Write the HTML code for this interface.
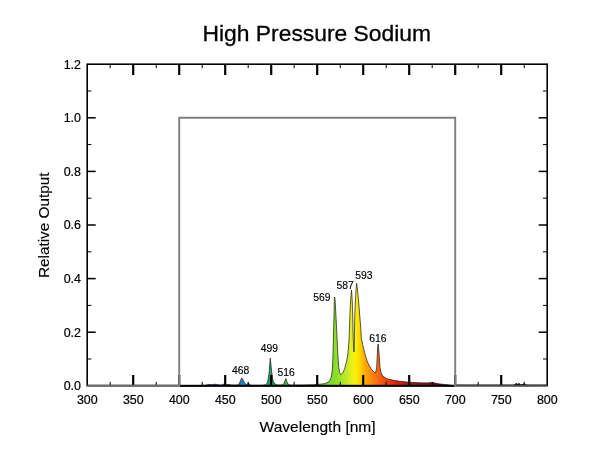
<!DOCTYPE html>
<html><head><meta charset="utf-8"><title>High Pressure Sodium</title>
<style>
html,body{margin:0;padding:0;background:#fff;}
body{width:600px;height:450px;overflow:hidden;font-family:"Liberation Sans",sans-serif;}
svg{display:block;will-change:transform;}
text{font-family:"Liberation Sans",sans-serif;fill:#000;}
.tk{font-size:12.45px;stroke:#000;stroke-width:0.2px;}
.pk{font-size:10.35px;stroke:#000;stroke-width:0.15px;}
.ttl{font-size:22.85px;stroke:#000;stroke-width:0.3px;}
.ax{font-size:15.55px;stroke:#000;stroke-width:0.15px;}
.ay{font-size:15.3px;stroke:#000;stroke-width:0.15px;}
</style></head><body>
<svg width="600" height="450" viewBox="0 0 600 450">
<defs><linearGradient id="sp" gradientUnits="userSpaceOnUse" x1="179" y1="0" x2="455.2" y2="0"><stop offset="0.0000" stop-color="#180028"/><stop offset="0.0978" stop-color="#2a10a0"/><stop offset="0.1484" stop-color="#1030c8"/><stop offset="0.1991" stop-color="#1060d8"/><stop offset="0.2263" stop-color="#1c80d4"/><stop offset="0.2571" stop-color="#18a0c0"/><stop offset="0.3005" stop-color="#10a888"/><stop offset="0.3295" stop-color="#1ca46c"/><stop offset="0.3621" stop-color="#28b450"/><stop offset="0.3874" stop-color="#3cb84c"/><stop offset="0.4381" stop-color="#50d038"/><stop offset="0.5105" stop-color="#68d828"/><stop offset="0.5587" stop-color="#80dc28"/><stop offset="0.5829" stop-color="#a0e428"/><stop offset="0.6072" stop-color="#c4ea24"/><stop offset="0.6264" stop-color="#e8f01c"/><stop offset="0.6408" stop-color="#fff000"/><stop offset="0.6553" stop-color="#ffd400"/><stop offset="0.6698" stop-color="#ffb000"/><stop offset="0.6941" stop-color="#ff8c08"/><stop offset="0.7205" stop-color="#f86810"/><stop offset="0.7520" stop-color="#f04010"/><stop offset="0.7893" stop-color="#e41c10"/><stop offset="0.8327" stop-color="#c40c14"/><stop offset="0.8798" stop-color="#9c0c18"/><stop offset="0.9232" stop-color="#7c0814"/><stop offset="0.9594" stop-color="#500010"/><stop offset="0.9993" stop-color="#200000"/></linearGradient></defs>
<rect x="0" y="0" width="600" height="450" fill="#fff"/>
<path d="M179.20 385.80 L179.20 385.80 L197.60 385.53 L204.96 385.26 L209.56 384.46 L212.32 384.73 L215.08 384.19 L217.84 384.73 L221.52 385.00 L224.28 383.92 L226.12 384.73 L228.88 384.46 L231.64 385.00 L237.16 385.00 L239.00 384.19 L240.38 380.98 L241.76 378.03 L243.42 380.44 L244.98 383.66 L246.82 384.73 L248.38 382.58 L249.86 385.00 L252.80 385.26 L262.00 385.26 L265.68 384.73 L267.52 382.58 L268.99 373.74 L270.28 358.20 L271.75 372.40 L273.04 380.98 L274.88 383.92 L277.64 385.00 L281.32 385.00 L283.62 384.19 L284.91 380.98 L285.83 378.56 L286.75 381.24 L288.04 384.19 L290.06 385.00 L303.40 385.00 L312.60 384.73 L320.24 384.19 L325.30 383.60 L329.30 381.50 L331.30 377.00 L332.30 370.00 L332.90 357.00 L333.30 343.00 L333.60 330.00 L334.00 315.00 L334.25 303.00 L334.45 298.50 L334.67 297.00 L334.90 298.50 L335.25 303.00 L335.90 315.00 L336.70 330.00 L337.30 343.00 L338.00 357.00 L338.70 367.00 L339.60 372.50 L340.70 374.70 L342.70 373.00 L344.70 368.50 L346.30 362.50 L347.40 357.00 L348.30 350.00 L349.00 340.00 L349.40 330.00 L349.90 315.00 L350.50 302.00 L351.50 289.90 L352.30 302.00 L352.70 315.00 L353.00 330.00 L353.60 349.00 L354.00 352.00 L354.30 349.00 L354.40 335.00 L354.80 315.00 L355.30 302.00 L356.00 290.00 L356.67 283.30 L357.50 290.00 L358.70 302.00 L359.70 315.00 L360.80 328.00 L361.30 338.00 L362.70 344.70 L364.70 352.70 L366.70 360.00 L369.30 366.00 L372.00 370.00 L374.70 372.70 L375.60 373.00 L376.70 367.30 L377.20 356.70 L377.70 347.00 L378.10 344.00 L378.50 347.00 L379.30 356.70 L380.00 367.30 L381.00 372.70 L382.70 376.00 L386.70 378.70 L393.30 380.30 L400.00 381.30 L409.30 382.30 L420.00 382.80 L427.00 382.90 L430.00 382.70 L432.00 382.60 L434.00 382.80 L437.00 383.50 L440.00 384.00 L445.00 384.50 L449.30 384.90 L455.20 385.80 Z" fill="url(#sp)" stroke="#1a1a10" stroke-width="0.7" stroke-linejoin="round"/>
<rect x="87.2" y="64.2" width="460.00" height="321.40" fill="none" stroke="#000" stroke-width="1.6"/>
<line x1="110.20" y1="64.20" x2="110.20" y2="68.20" stroke="#000" stroke-width="1"/><line x1="133.20" y1="64.20" x2="133.20" y2="75.00" stroke="#000" stroke-width="2.2"/><line x1="156.20" y1="64.20" x2="156.20" y2="68.20" stroke="#000" stroke-width="1"/><line x1="179.20" y1="64.20" x2="179.20" y2="75.00" stroke="#000" stroke-width="2.2"/><line x1="202.20" y1="64.20" x2="202.20" y2="68.20" stroke="#000" stroke-width="1"/><line x1="225.20" y1="64.20" x2="225.20" y2="75.00" stroke="#000" stroke-width="2.2"/><line x1="248.20" y1="64.20" x2="248.20" y2="68.20" stroke="#000" stroke-width="1"/><line x1="271.20" y1="64.20" x2="271.20" y2="75.00" stroke="#000" stroke-width="2.2"/><line x1="294.20" y1="64.20" x2="294.20" y2="68.20" stroke="#000" stroke-width="1"/><line x1="317.20" y1="64.20" x2="317.20" y2="75.00" stroke="#000" stroke-width="2.2"/><line x1="340.20" y1="64.20" x2="340.20" y2="68.20" stroke="#000" stroke-width="1"/><line x1="363.20" y1="64.20" x2="363.20" y2="75.00" stroke="#000" stroke-width="2.2"/><line x1="386.20" y1="64.20" x2="386.20" y2="68.20" stroke="#000" stroke-width="1"/><line x1="409.20" y1="64.20" x2="409.20" y2="75.00" stroke="#000" stroke-width="2.2"/><line x1="432.20" y1="64.20" x2="432.20" y2="68.20" stroke="#000" stroke-width="1"/><line x1="455.20" y1="64.20" x2="455.20" y2="75.00" stroke="#000" stroke-width="2.2"/><line x1="478.20" y1="64.20" x2="478.20" y2="68.20" stroke="#000" stroke-width="1"/><line x1="501.20" y1="64.20" x2="501.20" y2="75.00" stroke="#000" stroke-width="2.2"/><line x1="524.20" y1="64.20" x2="524.20" y2="68.20" stroke="#000" stroke-width="1"/><line x1="87.20" y1="359.00" x2="91.40" y2="359.00" stroke="#000" stroke-width="1"/><line x1="547.20" y1="359.00" x2="543.00" y2="359.00" stroke="#000" stroke-width="1"/><line x1="87.20" y1="332.20" x2="95.70" y2="332.20" stroke="#000" stroke-width="1.5"/><line x1="547.20" y1="332.20" x2="538.70" y2="332.20" stroke="#000" stroke-width="1.5"/><line x1="87.20" y1="305.40" x2="91.40" y2="305.40" stroke="#000" stroke-width="1"/><line x1="547.20" y1="305.40" x2="543.00" y2="305.40" stroke="#000" stroke-width="1"/><line x1="87.20" y1="278.60" x2="95.70" y2="278.60" stroke="#000" stroke-width="1.5"/><line x1="547.20" y1="278.60" x2="538.70" y2="278.60" stroke="#000" stroke-width="1.5"/><line x1="87.20" y1="251.80" x2="91.40" y2="251.80" stroke="#000" stroke-width="1"/><line x1="547.20" y1="251.80" x2="543.00" y2="251.80" stroke="#000" stroke-width="1"/><line x1="87.20" y1="225.00" x2="95.70" y2="225.00" stroke="#000" stroke-width="1.5"/><line x1="547.20" y1="225.00" x2="538.70" y2="225.00" stroke="#000" stroke-width="1.5"/><line x1="87.20" y1="198.20" x2="91.40" y2="198.20" stroke="#000" stroke-width="1"/><line x1="547.20" y1="198.20" x2="543.00" y2="198.20" stroke="#000" stroke-width="1"/><line x1="87.20" y1="171.40" x2="95.70" y2="171.40" stroke="#000" stroke-width="1.5"/><line x1="547.20" y1="171.40" x2="538.70" y2="171.40" stroke="#000" stroke-width="1.5"/><line x1="87.20" y1="144.60" x2="91.40" y2="144.60" stroke="#000" stroke-width="1"/><line x1="547.20" y1="144.60" x2="543.00" y2="144.60" stroke="#000" stroke-width="1"/><line x1="87.20" y1="117.80" x2="95.70" y2="117.80" stroke="#000" stroke-width="1.5"/><line x1="547.20" y1="117.80" x2="538.70" y2="117.80" stroke="#000" stroke-width="1.5"/><line x1="87.20" y1="91.00" x2="91.40" y2="91.00" stroke="#000" stroke-width="1"/><line x1="547.20" y1="91.00" x2="543.00" y2="91.00" stroke="#000" stroke-width="1"/>
<line x1="110.20" y1="385.80" x2="110.20" y2="381.80" stroke="#000" stroke-width="1"/><line x1="133.20" y1="385.80" x2="133.20" y2="375.00" stroke="#000" stroke-width="2.2"/><line x1="156.20" y1="385.80" x2="156.20" y2="381.80" stroke="#000" stroke-width="1"/><line x1="179.20" y1="385.80" x2="179.20" y2="375.00" stroke="#000" stroke-width="2.2"/><line x1="202.20" y1="385.80" x2="202.20" y2="381.80" stroke="#000" stroke-width="1"/><line x1="225.20" y1="385.80" x2="225.20" y2="375.00" stroke="#000" stroke-width="2.2"/><line x1="248.20" y1="385.80" x2="248.20" y2="381.80" stroke="#000" stroke-width="1"/><line x1="271.20" y1="385.80" x2="271.20" y2="375.00" stroke="#000" stroke-width="2.2"/><line x1="294.20" y1="385.80" x2="294.20" y2="381.80" stroke="#000" stroke-width="1"/><line x1="317.20" y1="385.80" x2="317.20" y2="375.00" stroke="#000" stroke-width="2.2"/><line x1="340.20" y1="385.80" x2="340.20" y2="381.80" stroke="#000" stroke-width="1"/><line x1="363.20" y1="385.80" x2="363.20" y2="375.00" stroke="#000" stroke-width="2.2"/><line x1="386.20" y1="385.80" x2="386.20" y2="381.80" stroke="#000" stroke-width="1"/><line x1="409.20" y1="385.80" x2="409.20" y2="375.00" stroke="#000" stroke-width="2.2"/><line x1="432.20" y1="385.80" x2="432.20" y2="381.80" stroke="#000" stroke-width="1"/><line x1="455.20" y1="385.80" x2="455.20" y2="375.00" stroke="#000" stroke-width="2.2"/><line x1="478.20" y1="385.80" x2="478.20" y2="381.80" stroke="#000" stroke-width="1"/><line x1="501.20" y1="385.80" x2="501.20" y2="375.00" stroke="#000" stroke-width="2.2"/><line x1="524.20" y1="385.80" x2="524.20" y2="381.80" stroke="#000" stroke-width="1"/>
<line x1="180.10" y1="385.90" x2="454.30" y2="385.90" stroke="#000" stroke-width="1.9"/>
<path d="M513.16 385.80 L515.00 384.60 L516.38 383.00 L517.76 384.60 L519.14 383.20 L520.52 384.80 L522.36 384.60 L524.20 383.60 L525.58 385.00 L527.88 385.30 L529.72 385.80 Z" fill="#000" stroke="#000" stroke-width="0.6"/>
<line x1="87.2" y1="385.80" x2="179.20" y2="385.80" stroke="#6c6c6c" stroke-width="2"/>
<line x1="455.20" y1="385.80" x2="547.2" y2="385.80" stroke="#6c6c6c" stroke-width="2"/>
<line x1="456.20" y1="385.00" x2="547.2" y2="385.00" stroke="#000" stroke-width="0.6"/>
<polyline points="179.20,386.80 179.20,117.80 455.20,117.80 455.20,386.80" fill="none" stroke="#808080" stroke-width="1.9"/>
<text x="87.30" y="404.2" text-anchor="middle" class="tk">300</text><text x="133.30" y="404.2" text-anchor="middle" class="tk">350</text><text x="179.30" y="404.2" text-anchor="middle" class="tk">400</text><text x="225.30" y="404.2" text-anchor="middle" class="tk">450</text><text x="271.30" y="404.2" text-anchor="middle" class="tk">500</text><text x="317.30" y="404.2" text-anchor="middle" class="tk">550</text><text x="363.30" y="404.2" text-anchor="middle" class="tk">600</text><text x="409.30" y="404.2" text-anchor="middle" class="tk">650</text><text x="455.30" y="404.2" text-anchor="middle" class="tk">700</text><text x="501.30" y="404.2" text-anchor="middle" class="tk">750</text><text x="547.30" y="404.2" text-anchor="middle" class="tk">800</text><text x="81.0" y="390.20" text-anchor="end" class="tk">0.0</text><text x="81.0" y="336.60" text-anchor="end" class="tk">0.2</text><text x="81.0" y="283.00" text-anchor="end" class="tk">0.4</text><text x="81.0" y="229.40" text-anchor="end" class="tk">0.6</text><text x="81.0" y="175.80" text-anchor="end" class="tk">0.8</text><text x="81.0" y="122.20" text-anchor="end" class="tk">1.0</text><text x="81.0" y="68.60" text-anchor="end" class="tk">1.2</text>
<text x="240.6" y="373.8" text-anchor="middle" class="pk">468</text><text x="269.5" y="352.1" text-anchor="middle" class="pk">499</text><text x="286.2" y="376.0" text-anchor="middle" class="pk">516</text><text x="322.0" y="300.8" text-anchor="middle" class="pk">569</text><text x="345.1" y="288.8" text-anchor="middle" class="pk">587</text><text x="364.0" y="279.3" text-anchor="middle" class="pk">593</text><text x="378.0" y="341.8" text-anchor="middle" class="pk">616</text>
<text x="316.8" y="40.8" text-anchor="middle" class="ttl">High Pressure Sodium</text>
<text x="317.6" y="432.1" text-anchor="middle" class="ax">Wavelength [nm]</text>
<text transform="translate(48.6,225.3) rotate(-90)" text-anchor="middle" class="ay">Relative Output</text>
</svg>
</body></html>
